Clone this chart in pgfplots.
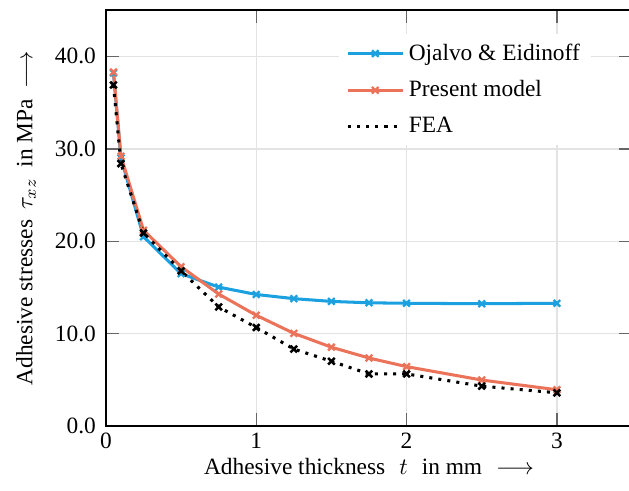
\documentclass[border=0pt]{standalone}
\usepackage{fontspec}
\setmainfont{Liberation Serif}
\usepackage{pgfplots}
\pgfplotsset{compat=1.18}
\definecolor{cblue}{RGB}{27,160,224}
\definecolor{corange}{RGB}{234,115,90}
\begin{document}
\begin{tikzpicture}
\begin{axis}[
  scale only axis,
  width=225pt, height=178pt,
  xmin=0, xmax=3.5, ymin=0, ymax=45,
  xtick={0,1,2,3},
  ytick={0,10,20,30,40},
  yticklabel style={xshift=-0.8pt, /pgf/number format/.cd, fixed, fixed zerofill, precision=1},
  xticklabel style={yshift=0.6pt},
  /pgf/number format/assume math mode=true,
  grid=major,
  grid style={line width=0.6pt, draw=black!11},
  major tick length=5.5pt,
  tick style={black!60, line width=0.6pt},
  axis line style={line width=0.7pt},
  xlabel={Adhesive thickness\hspace{6pt}$t$\hspace{6pt}in mm\hspace{6pt}$\longrightarrow$},
  ylabel={Adhesive stresses\hspace{4.5pt}$\tau_{xz}$\hspace{4.5pt}in MPa\hspace{4.5pt}$\longrightarrow$},
  xlabel style={at={(axis description cs:0.5,-0.096)}, anchor=center},
  ylabel style={at={(axis description cs:-0.152,0.5)}, anchor=center},
  legend cell align=left,
  legend style={at={(0.443,0.943)}, anchor=north west, draw=none, fill=white,
    row sep=3.2pt, font=\normalsize},
  legend image code/.code={%
    \draw[mark repeat=2, mark phase=2, #1] plot coordinates {(0cm,0cm) (0.41cm,0cm) (0.82cm,0cm)};},
  every axis plot/.append style={line width=1.3pt},
]
\addplot[cblue, mark=x, mark size=2pt, mark options={line width=1pt}] coordinates {
(0.05,38.2) (0.1,29.0) (0.25,20.5) (0.5,16.5) (0.75,15.05) (1.0,14.25)
(1.25,13.8) (1.5,13.5) (1.75,13.35) (2.0,13.3) (2.5,13.25) (3.0,13.3)};
\addlegendentry{Ojalvo \& Eidinoff}
\addplot[corange, mark=x, mark size=2pt, mark options={line width=1pt}] coordinates {
(0.05,38.3) (0.1,29.2) (0.25,21.2) (0.5,17.25) (0.75,14.3) (1.0,12.0)
(1.25,10.05) (1.5,8.55) (1.75,7.38) (2.0,6.45) (2.5,5.0) (3.0,3.95)};
\addlegendentry{Present model}
\addplot[black, dash pattern=on 1.3pt off 2.6pt, mark=x, mark size=2pt, mark options={solid, line width=1.1pt},
  legend image code/.code={\draw[black, line width=1.3pt, dash pattern=on 1.3pt off 2.6pt] (0cm,0cm) -- (0.82cm,0cm);}] coordinates {
(0.05,36.9) (0.1,28.4) (0.25,20.9) (0.5,16.8) (0.75,12.9) (1.0,10.68)
(1.25,8.35) (1.5,7.03) (1.75,5.66) (2.0,5.66) (2.5,4.34) (3.0,3.62)};
\addlegendentry{FEA}
\end{axis}
\pgfresetboundingbox
\useasboundingbox ([shift={(-45.3pt,-27.4pt)}]current axis.south west) rectangle ([shift={(-1.3pt,4.3pt)}]current axis.north east);
\end{tikzpicture}
\end{document}
